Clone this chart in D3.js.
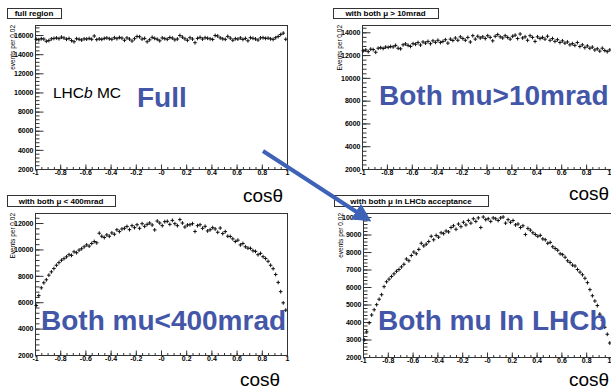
<!DOCTYPE html>
<html>
<head>
<meta charset="utf-8">
<script src="https://cdn.jsdelivr.net/npm/d3@7"></script>
<style>
  body { margin: 0; background: #fff; }
  svg { display: block; }
</style>
</head>
<body>
<div id="slide"></div>
<script>
// bins of 0.02 in cos(theta)
const binCenters = d3.range(100).map(i => +(-0.99 + 0.02 * i).toFixed(2));
const xTicks = [-1, -0.8, -0.6, -0.4, -0.2, 0, 0.2, 0.4, 0.6, 0.8, 1];
const xTickLabels = ["-1", "-0.8", "-0.6", "-0.4", "-0.2", "-0", "0.2", "0.4", "0.6", "0.8", "1"];

const fullRegion = [
  15560, 15500, 15620, 15580, 15350, 15420, 15600, 15650, 15700, 15620,
  15780, 15690, 15560, 15640, 15420, 15300, 15620, 15560, 15480, 15600,
  15580, 15650, 15560, 15900, 15520, 15600, 15550, 15650, 15700, 15610,
  15560, 15720, 15620, 15750, 15680, 15450, 15700, 15580, 15380, 15620,
  15850, 15820, 15580, 15650, 15300, 15500, 15760, 15650, 15560, 15400,
  15700, 15620, 15560, 15740, 15680, 15500, 15590, 15950, 15780, 15600,
  15450, 15720, 15580, 15200, 15650, 15760, 15580, 15720, 15670, 15600,
  15540, 15950, 15900, 15700, 15600, 15550, 15860, 15680, 15460, 15620,
  15580, 15700, 15540, 15650, 15400, 15720, 15660, 15590, 15480, 15700,
  15720, 15650, 15680, 15600, 15550, 15720, 15850, 16050, 16200, 15560
];
const above10mrad = [
  12380, 12450, 12300, 12520, 12480, 12250, 12600, 12650, 12580, 12700,
  12680, 12750, 12720, 12850, 12600, 12550, 12900, 12980, 12850, 12760,
  13000, 12950, 13100, 12880, 13150, 13050, 13200, 13000, 13250, 13120,
  13300, 13100, 13200, 13350, 13050, 13400, 13280, 13500, 13300, 13600,
  13450, 13300, 13550, 13150, 13700, 13400, 13650, 13500, 13600, 13450,
  13700, 13550, 13250, 13650, 13800, 13600, 13500, 13700, 13550, 13400,
  13650, 13750, 13450, 13850, 13500, 13600, 13300, 13700, 13550, 13200,
  13600, 13450, 13550, 13400, 13650, 13300, 13450, 13200, 13350, 13100,
  13250, 13050, 13150, 12900, 13000, 12850, 13100, 12750, 12900, 12650,
  12800, 12600, 12700, 12450, 12550, 12350, 12600, 12400, 12300, 12450
];
const below400mrad = [
  5750, 6500, 7090, 7470, 7700, 8050, 8300, 8550, 8800, 9000,
  9180, 9300, 9440, 9600, 9550, 9820, 9750, 9950, 10050, 10200,
  10340, 10250, 10450, 10600, 10500, 11230, 11000, 10900, 11100, 11000,
  11250, 11150, 11490, 11350, 11550, 11600, 11740, 11500, 11800, 11650,
  11870, 11600, 11950, 11750, 11900, 12000, 11850, 11480, 12150, 12000,
  11800, 12100, 12130, 11900, 12200, 11950, 11800, 12260, 12000, 11700,
  11850, 11870, 11950, 11360, 11800, 11870, 11600, 11750, 11400, 11490,
  11650, 11550, 11300, 11620, 11200, 11350, 11000, 10980, 10800, 10600,
  10700, 10340, 10450, 10200, 10100, 10080, 9900, 9850, 9600, 9700,
  9450, 9310, 9100, 8800, 8540, 8100, 7500, 6800, 5950, 5400
];
const inAcceptance = [
  2980, 3440, 3950, 4400, 4700, 4990, 5300, 5560, 6020, 6300,
  6450, 6600, 6750, 6900, 7000, 7150, 7300, 7600, 7500, 7800,
  8000, 7900, 8150, 8500, 8350, 8450, 8600, 8900, 8700, 8950,
  8850, 9100, 9050, 9200, 9150, 9400, 9500, 9300, 9600, 9450,
  9700, 9550, 9800, 9650, 9900, 9750, 9950, 9400, 10000, 9850,
  9900, 9750, 9950, 9900, 9800, 9950, 10000, 9650, 9850, 9700,
  9800, 9550, 9600, 9400, 9500, 9000, 9350, 9250, 9100, 9000,
  8900, 8950, 8750, 8700, 8500, 8550, 8300, 8200, 8100, 7900,
  7850, 7700, 7500, 7400, 7250, 7200, 7000, 6850, 6700, 6500,
  6250, 5850, 5500, 5200, 4940, 4450, 4100, 3700, 3300, 2800
];

const panelTitles = ["full region", "with both \u03bc > 10mrad", "with both \u03bc < 400mrad", "with both \u03bc in LHCb acceptance"];
const yAxisTitles = ["events per 0.02", "Events per 0.02", "Events per 0.02", "events per 0.02"];
const bigLabels = ["Full", "Both mu>10mrad", "Both mu<400mrad", "Both mu In LHCb"];

const slideBlue = "#4356a8";
const font = "'Liberation Sans', Arial, sans-serif";

const panels = [
  { values: fullRegion,   left: 35,  right: 287, top: 25,  bottom: 169, yMax: 17050, yStep: 2000, box: [7, 8, 61, 18],
    label: [137, 107], cos: [243, 202] },
  { values: above10mrad,  left: 362, right: 611, top: 25,  bottom: 169, yMax: 14640, yStep: 2000, box: [333, 8, 438, 18],
    label: [379, 105], cos: [569, 200] },
  { values: below400mrad, left: 35,  right: 287, top: 213, bottom: 355, yMax: 12760, yStep: 2000, box: [7, 195, 115, 206],
    label: [41, 330], cos: [240, 386] },
  { values: inAcceptance, left: 363, right: 611, top: 213, bottom: 357, yMax: 10230, yStep: 1000, box: [334, 195, 488, 206],
    label: [378, 330], cos: [569, 386] }
];

const svg = d3.select("#slide").append("svg")
  .attr("width", 611)
  .attr("height", 390);

function drawPanel(p, i) {
  const g = svg.append("g").attr("class", "panel");
  const x = d3.scaleLinear().domain([-1, 1]).range([p.left, p.right]);
  const y = d3.scaleLinear().domain([2000, p.yMax]).range([p.bottom, p.top]);

  g.append("rect")
    .attr("x", p.left + 0.5).attr("y", p.top + 0.5)
    .attr("width", p.right - p.left).attr("height", p.bottom - p.top)
    .attr("fill", "none").attr("stroke", "#333").attr("stroke-width", 1);

  // ROOT style: ticks point into the frame
  const yMajor = d3.range(2000, p.yMax, p.yStep);
  const yMinor = d3.range(2000, p.yMax, p.yStep / 5);
  g.append("g")
    .attr("transform", `translate(${p.left + 0.5},0)`)
    .call(d3.axisLeft(y).tickValues(yMinor).tickSize(-4).tickFormat(""))
    .call(a => a.select(".domain").remove());
  g.append("g")
    .attr("transform", `translate(${p.left + 0.5},0)`)
    .call(d3.axisLeft(y).tickValues(yMajor).tickSize(-8).tickPadding(2).tickFormat(d3.format("d")))
    .call(a => a.select(".domain").remove())
    .call(a => a.selectAll("text").attr("font-family", font).attr("font-weight", "bold").attr("font-size", 7));

  const xMinor = d3.range(-1, 1.001, 0.05);
  g.append("g")
    .attr("transform", `translate(0,${p.bottom + 0.5})`)
    .call(d3.axisBottom(x).tickValues(xMinor).tickSize(-2.5).tickFormat(""))
    .call(a => a.select(".domain").remove());
  g.append("g")
    .attr("transform", `translate(0,${p.bottom + 0.5})`)
    .call(d3.axisBottom(x).tickValues(xTicks).tickSize(-5).tickPadding(1).tickFormat((d, k) => xTickLabels[k]))
    .call(a => a.select(".domain").remove())
    .call(a => a.selectAll("text").attr("font-family", font).attr("font-weight", "bold").attr("font-size", 7))
    // the slide edge cuts the right panels at cos = 1, keep that label inside
    .call(a => { if (p.right > 600) a.selectAll("text").filter(d => d === 1).attr("text-anchor", "end"); });

  g.selectAll(".tick line").attr("stroke", "#333");

  g.append("text")
    .attr("transform", `translate(${p.left - 20},${p.top}) rotate(-90)`)
    .attr("text-anchor", "end")
    .attr("font-family", font).attr("font-size", 6.5)
    .text(yAxisTitles[i]);

  g.append("g").selectAll("path")
    .data(p.values)
    .enter().append("path")
      .attr("d", (v, k) => {
        let cx = x(binCenters[k]), cy = y(v);
        return `M${cx - 1.8},${cy}h3.6M${cx},${cy - 1.9}v3.8`;
      })
      .attr("stroke", "#111").attr("stroke-width", 1).attr("fill", "none");

  g.append("rect")
    .attr("x", p.box[0] + 0.5).attr("y", p.box[1] + 0.5)
    .attr("width", p.box[2] - p.box[0]).attr("height", p.box[3] - p.box[1])
    .attr("fill", "#fff").attr("stroke", "#333");
  g.append("text")
    .attr("x", (p.box[0] + p.box[2]) / 2).attr("y", p.box[3] - 2)
    .attr("text-anchor", "middle")
    .attr("font-family", font).attr("font-weight", "bold").attr("font-size", 8)
    .text(panelTitles[i]);

  g.append("text")
    .attr("x", p.label[0]).attr("y", p.label[1])
    .attr("font-family", font).attr("font-weight", "bold").attr("font-size", 28)
    .attr("fill", slideBlue)
    .text(bigLabels[i]);

  g.append("text")
    .attr("x", p.cos[0]).attr("y", p.cos[1])
    .attr("font-family", font).attr("font-size", 19)
    .text("cos\u03b8");
}

panels.forEach(drawPanel);

svg.append("text")
  .attr("x", 53).attr("y", 98)
  .attr("font-family", font).attr("font-size", 15.5)
  .html("LHC<tspan font-style='italic'>b</tspan> MC");

// arrow from the full-region panel to the acceptance panel
const arrowColor = "#3d62b8";
svg.append("defs").append("marker")
    .attr("id", "head")
    .attr("viewBox", "0 0 10 10")
    .attr("refX", 2).attr("refY", 5)
    .attr("markerWidth", 4.6).attr("markerHeight", 4.6)
    .attr("orient", "auto")
  .append("path")
    .attr("d", "M0,0L10,5L0,10Z")
    .attr("fill", arrowColor);
svg.append("line")
  .attr("x1", 263).attr("y1", 151)
  .attr("x2", 359).attr("y2", 213.5)
  .attr("stroke", arrowColor).attr("stroke-width", 4)
  .attr("marker-end", "url(#head)");
</script>
</body>
</html>
